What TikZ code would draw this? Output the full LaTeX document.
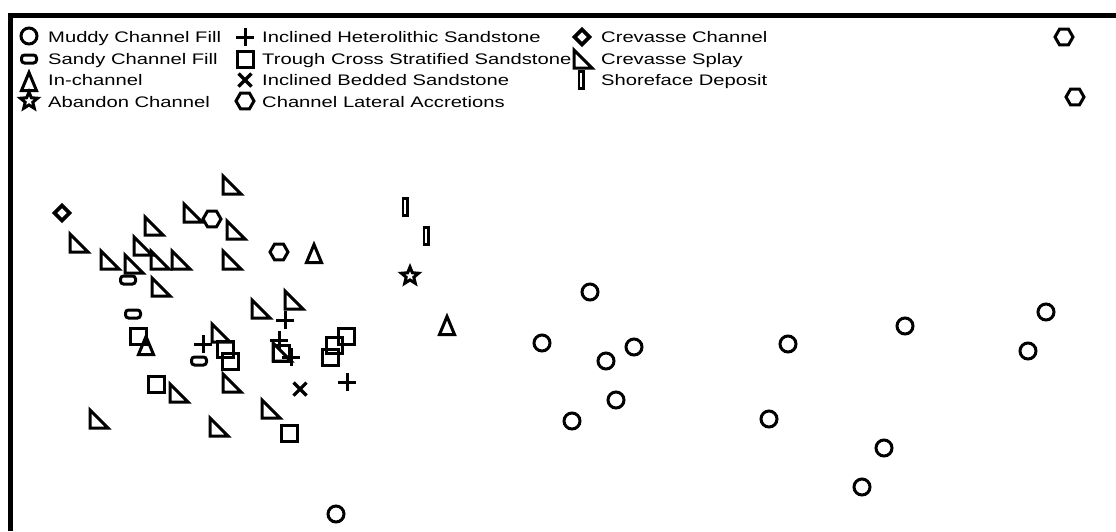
\documentclass[tikz,border=0pt]{standalone}
\usepackage{fontspec}
\setmainfont{Liberation Sans}
\usepackage{graphicx}
\begin{document}
\begin{tikzpicture}[x=1pt,y=-1pt,
  mk/.style={line width=3pt, line join=miter, draw=black},
  lab/.style={anchor=base west, inner sep=0pt, font=\fontsize{15.3}{18}\selectfont},
  muddy/.pic={\draw[mk] (0,0) circle[radius=8pt];},
  sandy/.pic={\draw[mk, rounded corners=3pt] (-7.5,-4) rectangle (7.5,4);},
  inchan/.pic={\draw[mk] (0,-8.5) -- (-7.5,9.5) -- (7.5,9.5) -- cycle;},
  abandon/.pic={\draw[mk, line width=3pt] (-90:9) -- (-126:4) -- (-162:9) -- (-198:4) -- (-234:9) -- (-270:4) -- (-306:9) -- (-342:4) -- (-18:9) -- (-54:4) -- cycle;},
  ihs/.pic={\draw[mk, line width=3pt] (-9,0) -- (9,0) (0,-9) -- (0,9);},
  trough/.pic={\draw[mk] (-8,-8) rectangle (8,8);},
  ibs/.pic={\draw[mk, line width=3.2pt] (-6.5,-6.5) -- (6.5,6.5) (-6.5,6.5) -- (6.5,-6.5);},
  cla/.pic={\draw[mk] (-9,0) -- (-4.5,-7.8) -- (4.5,-7.8) -- (9,0) -- (4.5,7.8) -- (-4.5,7.8) -- cycle;},
  cchan/.pic={\draw[mk, line width=3.6pt] (0,-7.5) -- (7.5,0) -- (0,7.5) -- (-7.5,0) -- cycle;},
  splay/.pic={\draw[mk] (-9,-9) -- (-9,9) -- (9,9) -- cycle;},
  shore/.pic={\draw[mk, line width=2.6pt] (-2.2,-8.5) rectangle (2.2,8.5);}
]
\useasboundingbox (0,0) rectangle (1116,531);
\fill[white] (0,0) rectangle (1116,531);
\draw[line width=5pt] (10,531) -- (10,15) -- (1116,15);

% legend
\pic at (29,36) {muddy};
\pic at (29,59) {sandy};
\pic at (29,81) {inchan};
\pic at (29,101) {abandon};
\pic at (245,37) {ihs};
\pic at (245,59) {trough};
\pic at (245,80) {ibs};
\pic at (245,101) {cla};
\pic at (582,37) {cchan};
\pic at (583,59) {splay};
\pic at (581,80) {shore};

\node[lab] (l1) at (48,42.5) {\scalebox{1.32}[1]{Muddy Channel Fill}};
\node[lab] (l2) at (48,64.5) {\scalebox{1.32}[1]{Sandy Channel Fill}};
\node[lab] (l3) at (48,85.5) {\scalebox{1.32}[1]{In-channel}};
\node[lab] (l4) at (48,107) {\scalebox{1.32}[1]{Abandon Channel}};
\node[lab] (l5) at (262,42.5) {\scalebox{1.32}[1]{Inclined Heterolithic Sandstone}};
\node[lab] (l6) at (262,64.5) {\scalebox{1.32}[1]{Trough Cross Stratified Sandstone}};
\node[lab] (l7) at (262,85.5) {\scalebox{1.32}[1]{Inclined Bedded Sandstone}};
\node[lab] (l8) at (262,107) {\scalebox{1.32}[1]{Channel Lateral Accretions}};
\node[lab] (l9) at (601,42.5) {\scalebox{1.32}[1]{Crevasse Channel}};
\node[lab] (l10) at (601,64.5) {\scalebox{1.32}[1]{Crevasse Splay}};
\node[lab] (l11) at (601,85.5) {\scalebox{1.32}[1]{Shoreface Deposit}};

% data: crevasse splay
\foreach \p in {(232,185),(193,213),(236,230),(154,226),(79,243),(143,246),(110,260),(134,264),(160,260),(181,260),(232,260),(161,287),(261,309),(294,300),(221,333),(282,352),(232,383),(179,393),(99,419),(219,427),(271,409)}
  \pic at \p {splay};
% trough cross
\foreach \p in {(138,336),(225,349),(230,361),(281,353),(346,336),(334,345),(330,357),(156,384),(289,433)}
  \pic at \p {trough};
% in-channel
\foreach \p in {(314,253),(146,345),(447,325)}
  \pic at \p {inchan};
% sandy
\foreach \p in {(128,280),(133,314),(199,361)}
  \pic at \p {sandy};
% IHS
\foreach \p in {(285,320),(203,344),(279,340),(291,357),(347,382)}
  \pic at \p {ihs};
\pic at (300,389) {ibs};
% CLA
\foreach \p in {(212,219),(279,252),(1064,37),(1075,97)}
  \pic at \p {cla};
\pic at (405,207) {shore};
\pic at (426,236) {shore};
\pic at (410,276) {abandon};
\pic at (62,213) {cchan};
% muddy
\foreach \p in {(590,292),(542,343),(634,347),(606,361),(616,400),(572,421),(788,344),(769,419),(905,326),(1046,312),(1028,351),(884,448),(862,487),(336,514)}
  \pic at \p {muddy};
\end{tikzpicture}
\end{document}
